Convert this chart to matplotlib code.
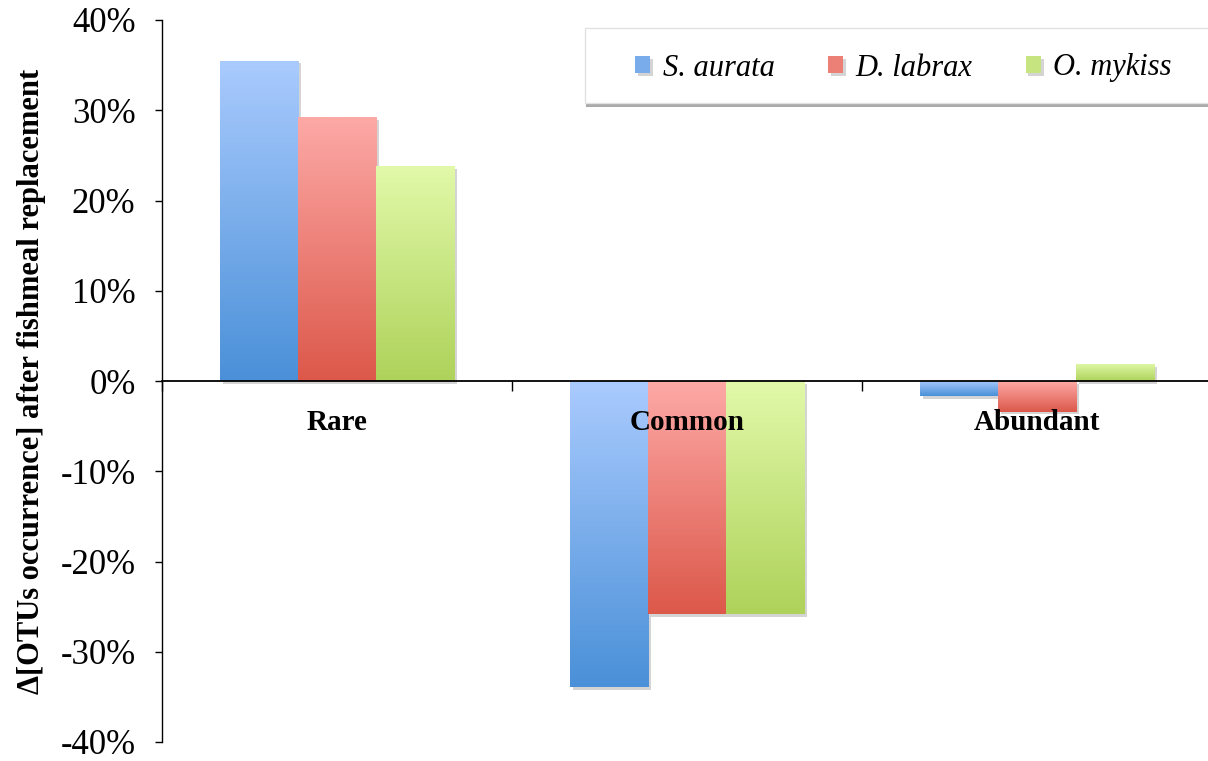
import numpy as np
import matplotlib
matplotlib.use("Agg")
import matplotlib.pyplot as plt
import matplotlib.patheffects as pe
from matplotlib.colors import LinearSegmentedColormap
from matplotlib.patches import Rectangle
from matplotlib.ticker import FixedLocator, PercentFormatter

plt.rcParams["axes.unicode_minus"] = False

# Data
categories = ["Rare", "Common", "Abundant"]
species = ["S. aurata", "D. labrax", "O. mykiss"]
s_aurata = [35.5, -33.9, -1.7]
d_labrax = [29.2, -25.8, -3.4]
o_mykiss = [23.8, -25.8, 1.9]
values = [s_aurata, d_labrax, o_mykiss]

# light (top) / dark (bottom) gradient colours per series
top_colors = ["#aacbfe", "#fda9a6", "#e1f9a9"]
bottom_colors = ["#4a90d8", "#dc584a", "#aed25a"]
mid_colors = ["#79acea", "#ec8076", "#c6e581"]

serif = "Liberation Serif"

W, H = 1208, 761
fig = plt.figure(figsize=(W / 100, H / 100), dpi=100)
ax = fig.add_axes([162 / W, 19 / H, (W - 162) / W, (742 - 20) / H])

x = np.arange(len(categories))
width = 0.223


def gradient_bar(ax, bar, top_color, bottom_color):
    x0, y0 = bar.get_x(), bar.get_y()
    w, h = bar.get_width(), bar.get_height()
    lo, hi = min(y0, y0 + h), max(y0, y0 + h)
    cmap = LinearSegmentedColormap.from_list("g", [bottom_color, top_color])
    grad = np.linspace(0, 1, 256).reshape(-1, 1)
    im = ax.imshow(grad, extent=(x0, x0 + w, lo, hi), origin="lower",
                   cmap=cmap, aspect="auto", zorder=1.1)
    im.set_clip_path(bar)


for i, (vals, tc, bc) in enumerate(zip(values, top_colors, bottom_colors)):
    bars = ax.bar(x + (i - 1) * width, vals, width, color=mid_colors[i],
                  zorder=1, label=species[i], linewidth=0)
    for b in bars:
        b.set_path_effects([pe.SimplePatchShadow(offset=(2, -2), alpha=0.25,
                                                  shadow_rgbFace="#555555"),
                            pe.Normal()])
        gradient_bar(ax, b, tc, bc)

ax.set_xlim(-0.5, -0.5 + (W - 162) / 350)
ax.set_ylim(-40, 40)

# axes styling
for s in ["top", "right"]:
    ax.spines[s].set_visible(False)
ax.spines["bottom"].set_position(("data", 0))
ax.spines["bottom"].set_zorder(5)
ax.spines["left"].set_linewidth(1.0)
ax.spines["bottom"].set_linewidth(1.3)
ax.xaxis.set_zorder(6)

ax.yaxis.set_major_locator(FixedLocator(np.arange(-40, 41, 10)))
ax.yaxis.set_major_formatter(PercentFormatter(decimals=0))
ax.tick_params(axis="y", direction="out", length=5, width=1, pad=14,
               labelsize=25)
for lab in ax.get_yticklabels():
    lab.set_fontfamily(serif)

ax.xaxis.set_major_locator(FixedLocator([-0.5, 0.5, 1.5, 2.5]))
ax.xaxis.set_major_formatter(plt.NullFormatter())
ax.xaxis.set_minor_locator(FixedLocator(x))
ax.xaxis.set_minor_formatter(plt.FixedFormatter(categories))
ax.tick_params(axis="x", which="major", direction="out", length=7, width=1)
ax.tick_params(axis="x", which="minor", length=0, pad=20, labelsize=21)
for lab in ax.get_xticklabels(minor=True):
    lab.set_fontfamily(serif)
    lab.set_fontweight("bold")

fig.text(32 / W, 1 - 381 / H, "\u0394[OTUs occurrence] after fishmeal replacement",
         rotation=90, ha="center", va="center", fontsize=22,
         fontweight="bold", family=serif)

# legend box (drawn separately so it can run off the right edge)
box = Rectangle((585 / W, 1 - 103 / H), (1225 - 585) / W, 75 / H,
                transform=fig.transFigure, facecolor="white",
                edgecolor="#e2e2e2", linewidth=1, zorder=8)
box.set_path_effects([pe.SimplePatchShadow(offset=(1, -3), alpha=0.45,
                                            shadow_rgbFace="#444444"),
                      pe.Normal()])
fig.add_artist(box)

handles, labels = ax.get_legend_handles_labels()
leg = fig.legend(handles, labels, loc="center left",
                 bbox_to_anchor=(635 / W, 1 - 68 / H),
                 bbox_transform=fig.transFigure, ncol=3,
                 frameon=False, borderaxespad=0, borderpad=0,
                 prop={"family": serif, "style": "italic", "size": 22},
                 handlelength=0.5, handleheight=0.5, handletextpad=0.4,
                 columnspacing=1.75)
leg.set_zorder(9)

fig.savefig("out.png", dpi=100)
